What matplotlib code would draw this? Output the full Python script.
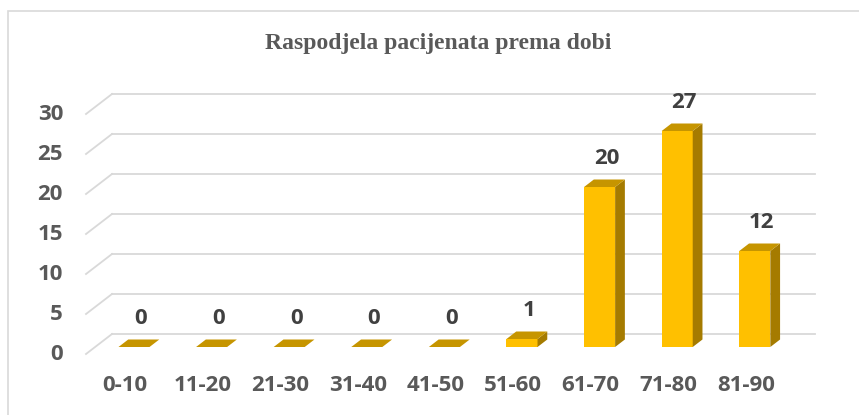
import numpy as np
import matplotlib
matplotlib.use("Agg")
import matplotlib.pyplot as plt
from matplotlib.patches import Polygon, Rectangle

# data
categories = ['0-10', '11-20', '21-30', '31-40', '41-50', '51-60', '61-70', '71-80', '81-90']
values = [0, 0, 0, 0, 0, 1, 20, 27, 12]
yticks = [0, 5, 10, 15, 20, 25, 30]
title = 'Raspodjela pacijenata prema dobi'

W, H = 859, 415
fig = plt.figure(figsize=(W / 100, H / 100), dpi=100)

# pixel layout of the bar plane: x px = X0 + SX*i, y px = Y0 - SY*v
X0, SX = 134.0, 77.6
Y0, SY = 347.0, 8.0
L, R, T, B = 40, 840, 75, 375

ax = fig.add_axes([L / W, (H - B) / H, (R - L) / W, (B - T) / H])
ax.set_xlim((L - X0) / SX, (R - X0) / SX)
ax.set_ylim((Y0 - B) / SY, (Y0 - T) / SY)
ax.axis('off')

def px(dx, dy):
    # pixel offset (right, up) -> data offset
    return dx / SX, dy / SY

# perspective offsets from the bar plane
fx, fy = px(-9.1, -7)     # front of floor
bx, by = px(16.9, 13)     # back wall
dx, dy = px(9.75, 7.5)    # bar depth
left_front = (86 - X0) / SX
left_back = (112 - X0) / SX
right_x = (815 - X0) / SX

grid_c = '#D9D9D9'
font = 'Open Sans'
for t in yticks:
    ax.plot([left_front, left_back], [t + fy, t + by], color=grid_c, lw=1.3, zorder=1)
    ax.plot([left_back, right_x], [t + by, t + by], color=grid_c, lw=1.3, zorder=1)
    ax.text((63 - X0) / SX, t + fy, str(t), ha='right', va='center',
            fontsize=16, fontweight='bold', family=font, color='#595959')

front_c = '#FFC000'
top_c = '#C69500'
side_c = '#A57B00'
hw = 0.2
for i, v in enumerate(values):
    x0, x1 = i - hw, i + hw
    ax.add_patch(Polygon([(x0, 0), (x1, 0), (x1, v), (x0, v)], closed=True,
                         facecolor=front_c, edgecolor='none', zorder=3))
    ax.add_patch(Polygon([(x1, 0), (x1 + dx, dy), (x1 + dx, v + dy), (x1, v)], closed=True,
                         facecolor=side_c, edgecolor='none', zorder=3))
    ax.add_patch(Polygon([(x0, v), (x1, v), (x1 + dx, v + dy), (x0 + dx, v + dy)], closed=True,
                         facecolor=top_c, edgecolor='none', zorder=3))
    ax.text(i + px(7, 0)[0], v + 29 / SY, str(v), ha='center', va='center',
            fontsize=16, fontweight='bold', family=font, color='#404040', zorder=4)
    ax.text(i + fx, fy - 31 / SY, categories[i], ha='center', va='center',
            fontsize=16, fontweight='bold', family=font, color='#595959')

fig.text(438 / W, (H - 43) / H, title, ha='center', va='center', fontsize=17,
         fontweight='bold', family='Liberation Serif', color='#595959')

fig.add_artist(Rectangle((8 / W, -0.05), 1, (H - 11.5) / H + 0.05, transform=fig.transFigure,
                         fill=False, edgecolor='#D9D9D9', lw=1.2))

fig.savefig('out.png', dpi=100)
